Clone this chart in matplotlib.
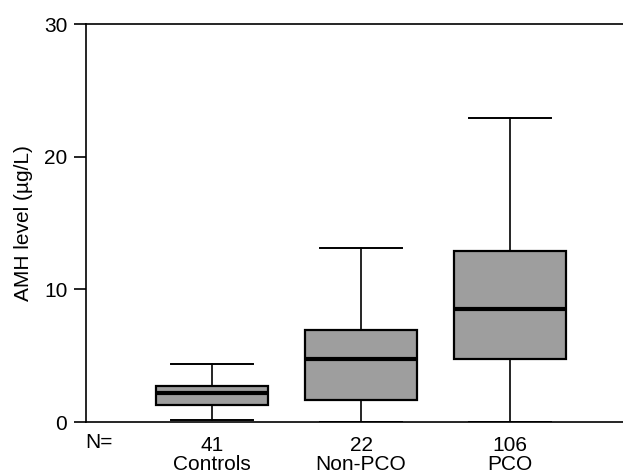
import matplotlib
matplotlib.use("Agg")
import matplotlib.pyplot as plt

# box summary (µg/L)
groups  = ["Controls", "Non-PCO", "PCO"]
counts  = [41, 22, 106]
whislo  = [0.15, 0.0, 0.0]
q1      = [1.25, 1.65, 4.73]
medians = [2.15, 4.75, 8.55]
q3      = [2.70, 6.94, 12.92]
whishi  = [4.37, 13.15, 22.88]

plt.rcParams['font.family'] = ['Liberation Sans', 'DejaVu Sans']

stats = []
for i in range(len(groups)):
    stats.append(dict(whislo=whislo[i], q1=q1[i], med=medians[i],
                      q3=q3[i], whishi=whishi[i], fliers=[]))

fig = plt.figure(figsize=(6.23, 4.75), dpi=100)
ax = fig.add_axes([86/623, 1 - 422/475, 1 - 86/623, (422 - 24)/475])

ax.bxp(stats, positions=[1, 2, 3], widths=0.75, patch_artist=True,
       showfliers=False,
       boxprops=dict(facecolor='#9e9e9e', edgecolor='black', linewidth=1.6),
       medianprops=dict(color='black', linewidth=3.0, solid_capstyle='butt'),
       whiskerprops=dict(color='black', linewidth=1.2),
       capprops=dict(color='black', linewidth=1.4),
       capwidths=0.55)

ax.set_xlim(1 - 126/149, 3 + 113/149)
ax.set_ylim(0, 30)
ax.set_yticks([0, 10, 20, 30])
ax.set_xticks([1, 2, 3])
ax.set_xticklabels([f"{n}\n{g}" for n, g in zip(counts, groups)], linespacing=1.0)
ax.tick_params(axis='x', length=0, pad=10, labelsize=15)
ax.tick_params(axis='y', length=8.5, width=1.2, pad=5, labelsize=15)
ax.spines['right'].set_visible(False)
for s in ['left', 'bottom', 'top']:
    ax.spines[s].set_linewidth(1.2)

ax.set_ylabel("AMH level (µg/L)", fontsize=15, labelpad=8)
fig.text(99/623, 1 - 442/475, "N=", ha='center', va='center', fontsize=15)

fig.savefig("out.png", dpi=100)
